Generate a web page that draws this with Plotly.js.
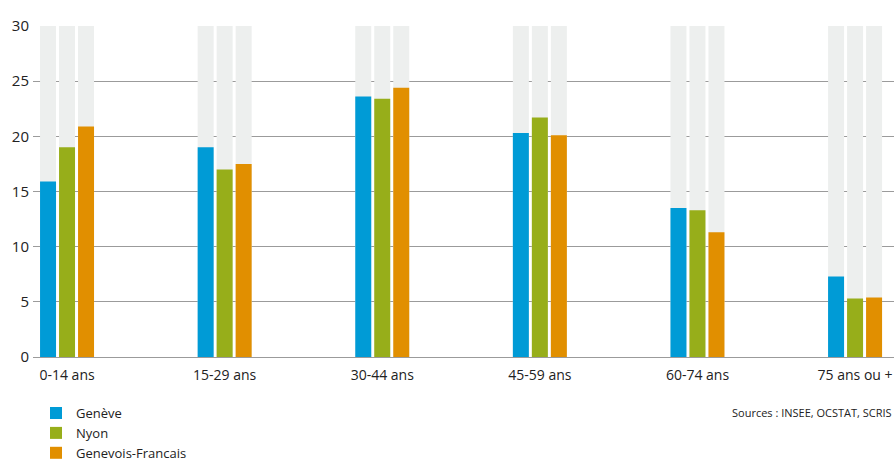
<!DOCTYPE html>
<html>
<head>
<meta charset="utf-8">
<script src="https://cdn.plot.ly/plotly-3.0.1.min.js"></script>
<style>html,body{margin:0;padding:0;background:#fff;}#chart{width:894px;height:461px;}</style>
</head>
<body>
<div id="chart"></div>
<script>
const categories = ["0-14 ans", "15-29 ans", "30-44 ans", "45-59 ans", "60-74 ans", "75 ans ou +"];
const geneve = [15.9, 19.0, 23.6, 20.3, 13.5, 7.3];
const nyon = [19.0, 17.0, 23.4, 21.7, 13.3, 5.3];
const genevoisFrancais = [20.9, 17.5, 24.4, 20.1, 11.3, 5.4];
const seriesNames = ["Genève", "Nyon", "Genevois-Francais"];
const scaleMax = 30;
const yTicks = [0, 5, 10, 15, 20, 25, 30];

const colors = ["#009BD6", "#97AE1A", "#E18F00"];
const bgColor = "#EDEFEE";
const barW = 0.1015;
const offsets = [-0.1713, -0.0508, 0.0698];
const series = [geneve, nyon, genevoisFrancais];
const bgValues = categories.map(() => scaleMax);

const traces = [];
series.forEach((vals, i) => {
  traces.push({
    type: "bar", x: categories, y: bgValues, width: barW, offset: offsets[i],
    marker: {color: bgColor}, showlegend: false, hoverinfo: "skip"
  });
});
series.forEach((vals, i) => {
  traces.push({
    type: "bar", name: seriesNames[i], x: categories, y: vals, width: barW, offset: offsets[i],
    marker: {color: colors[i]}
  });
});

const layout = {
  width: 894, height: 461,
  margin: {l: 33, r: 0, t: 26, b: 104, autoexpand: false},
  paper_bgcolor: "#fff", plot_bgcolor: "#fff",
  barmode: "overlay",
  font: {family: "Open Sans, sans-serif", size: 14, color: "#222"},
  xaxis: {
    type: "category", range: [-0.216, 5.247], showgrid: false, zeroline: false, showline: false,
    ticks: "", tickfont: {size: 14, color: "#222"}, ticklabelstandoff: 8, automargin: false
  },
  yaxis: {
    range: [0, scaleMax], tickvals: yTicks, showgrid: true, gridcolor: "#9B9B9B", gridwidth: 1,
    zeroline: true, zerolinecolor: "#9B9B9B", zerolinewidth: 1, showline: false, ticks: "",
    tickfont: {size: 15, color: "#222"}, ticklabelstandoff: 3, automargin: false
  },
  showlegend: true,
  legend: {
    orientation: "v", xref: "paper", yref: "paper", x: 0.0035, y: -0.124,
    xanchor: "left", yanchor: "top", font: {size: 13, color: "#222"}, bgcolor: "rgba(0,0,0,0)",
    traceorder: "normal", tracegroupgap: 0, borderwidth: 0
  },
  annotations: [{
    text: "Sources : INSEE, OCSTAT, SCRIS", xref: "paper", yref: "paper",
    x: 1, y: -0.169, xanchor: "right", yanchor: "middle", showarrow: false,
    font: {size: 11, color: "#222"}
  }]
};

Plotly.newPlot("chart", traces, layout, {displayModeBar: false, staticPlot: true});
</script>
</body>
</html>
